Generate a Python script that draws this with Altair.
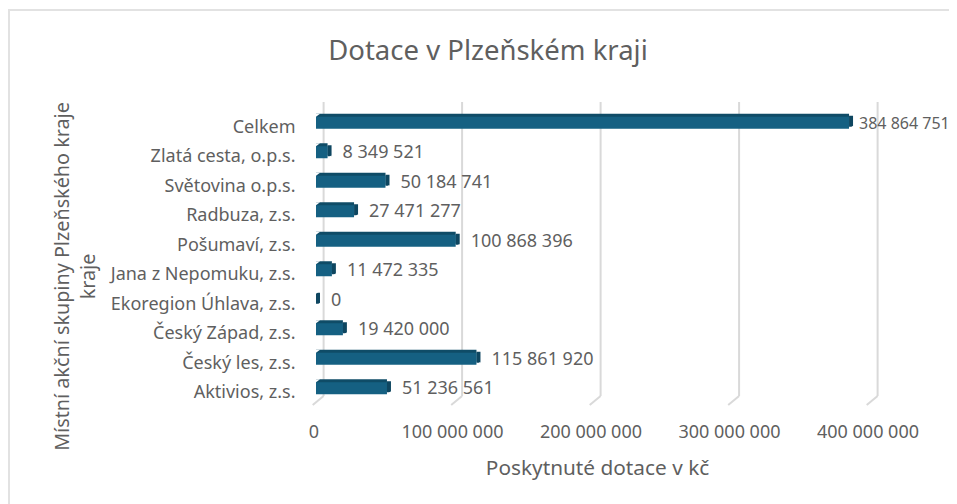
import altair as alt
import pandas as pd

categories = ["Celkem", "Zlatá cesta, o.p.s.", "Světovina o.p.s.", "Radbuza, z.s.", "Pošumaví, z.s.",
              "Jana z Nepomuku, z.s.", "Ekoregion Úhlava, z.s.", "Český Západ, z.s.", "Český les, z.s.", "Aktivios, z.s."]
values = [384864751, 8349521, 50184741, 27471277, 100868396, 11472335, 0, 19420000, 115861920, 51236561]
labels = ["384 864 751", "8 349 521", "50 184 741", "27 471 277", "100 868 396",
          "11 472 335", "0", "19 420 000", "115 861 920", "51 236 561"]
ticks = [0, 100000000, 200000000, 300000000, 400000000]
tick_labels = ["0", "100 000 000", "200 000 000", "300 000 000", "400 000 000"]
chart_title = "Dotace v Plzeňském kraji"

FONT = "Noto Sans"
GREY = "#5f5f5f"
FRONT = "#156082"
TOP = "#0f4c67"
SIDE = "#0e4660"

df = pd.DataFrame({"cat": categories, "val": values, "lab": labels})
grid = pd.DataFrame({"t": ticks})

xs = alt.Scale(domain=[0, 400000000], range=[0, 554], nice=False)
ys = alt.Scale(domain=categories, paddingInner=0, paddingOuter=0)

tick_expr = "{" + ",".join(f"'{t}':'{l}'" for t, l in zip(ticks, tick_labels)) + "}[datum.value]"

x_axis = alt.Axis(
    values=ticks, labelExpr=tick_expr, grid=False, ticks=False, domain=False,
    labelFont=FONT, labelFontSize=18, labelColor=GREY, labelOffset=-2.5, labelPadding=20,
    labelOverlap=False, labelFlush=False, labelBound=False,
    title="Poskytnuté dotace v kč", titleFont=FONT, titleFontSize=20.8, titleColor=GREY,
    titleFontWeight="normal", titleX=281, titleY=65, titleBaseline="middle")
y_axis = alt.Axis(
    labelFont=FONT, labelFontSize=18, labelColor=GREY, labelOffset=5, labelPadding=21,
    ticks=False, domain=False, grid=False, labelLimit=300,
    title=["Místní akční skupiny Plzeňského kraje", "kraje"], titleFont=FONT, titleFontSize=19.8,
    titleColor=GREY, titleFontWeight="normal", titleAngle=270, titleLineHeight=26,
    titleX=-254, titleY=168, titleBaseline="middle", titleAlign="center")

X = alt.X("val:Q", scale=xs, axis=x_axis)
Y = alt.Y("cat:N", scale=ys, sort=categories, axis=y_axis)

frame_top = alt.Chart(df.head(1)).mark_rule(color="#e2e2e2", strokeWidth=2).encode(
    x=alt.value(-308), x2=alt.value(641), y=alt.value(-98))
frame_left = alt.Chart(df.head(1)).mark_rule(color="#e2e2e2", strokeWidth=2).encode(
    x=alt.value(-307), y=alt.value(-98), y2=alt.value(396))

title_mark = alt.Chart(df.head(1)).mark_text(
    font=FONT, fontSize=27.5, color=GREY, align="center", baseline="middle").encode(
    x=alt.value(172), y=alt.value(-56), text=alt.value(chart_title))

XT = alt.X("t:Q", scale=xs, axis=x_axis)
grid_up = alt.Chart(grid).mark_rule(color="#d9d9d9", strokeWidth=2, xOffset=7.6).encode(
    x=XT, y=alt.value(-6), y2=alt.value(288))
grid_foot = alt.Chart(grid).mark_rule(color="#d9d9d9", strokeWidth=2, xOffset=7.6, x2Offset=-3.3).encode(
    x=XT, x2="t:Q", y=alt.value(288), y2=alt.value(297))

top_face = alt.Chart(df).mark_bar(color=TOP, size=12, yOffset=-3, xOffset=0, x2Offset=4).encode(x=X, y=Y)
side_face = alt.Chart(df).transform_calculate(s="datum.val").mark_bar(
    color=SIDE, size=11, yOffset=-1.5, xOffset=0, x2Offset=4).encode(
    x=X, x2="s:Q", y=Y)
front = alt.Chart(df).mark_bar(color=FRONT, size=12).encode(x=X, y=Y)

corner_tl = alt.Chart(df).transform_calculate(z="0").mark_point(
    shape="M-1 -0.75L1 -0.75L-1 0.75Z", filled=True, color="white", opacity=1, size=16,
    strokeWidth=0, xOffset=2, yOffset=-7.5).encode(
    x=alt.X("z:Q", scale=xs, axis=x_axis), y=Y)
corner_br = alt.Chart(df).mark_point(
    shape="M-1 0.75L1 -0.75L1 0.75Z", filled=True, color="white", opacity=1, size=16,
    strokeWidth=0, xOffset=2, yOffset=4.5).encode(x=X, y=Y)

text_common = dict(align="left", baseline="middle", font=FONT, color=GREY)
text_rest = alt.Chart(df).transform_filter("datum.cat != 'Celkem'").mark_text(
    dx=15, dy=1, fontSize=18, **text_common).encode(x=X, y=Y, text="lab:N")
text_total = alt.Chart(df).transform_filter("datum.cat == 'Celkem'").mark_text(
    dx=10, dy=1, fontSize=16, **text_common).encode(x=X, y=Y, text="lab:N")

chart = alt.layer(
    frame_top, frame_left, title_mark, grid_up, grid_foot,
    top_face, side_face, front, corner_tl, corner_br, text_rest, text_total,
).properties(
    width=554, height=295,
    autosize="none",
    padding={"left": 308, "top": 100, "right": 79, "bottom": 101},
    background="white",
).configure_view(stroke=None)

chart.save("out.html", embed_options={"renderer": "svg", "actions": False})
